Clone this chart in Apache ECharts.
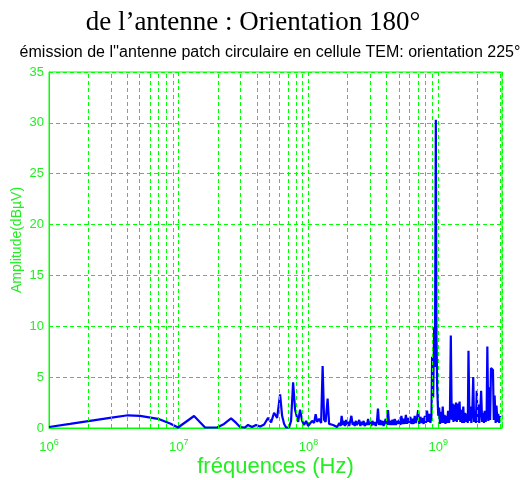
<!DOCTYPE html>
<html>
<head>
<meta charset="utf-8">
<script src="https://cdn.jsdelivr.net/npm/echarts@6/dist/echarts.min.js"></script>
<style>
  html, body { margin: 0; padding: 0; background: #fff; }
  #chart { width: 527px; height: 480px; }
</style>
</head>
<body>
<div id="chart"></div>
<script>

// frequencies (Hz) and amplitudes (dBuV)
var lowFreq = [1e6, 1.452e6, 2.07e6, 2.95e6, 4.06e6, 5.03e6, 6.92e6, 8.57e6, 9.88e6,
    1.312e7, 1.596e7, 1.974e7, 2.235e7, 2.53e7, 2.77e7, 2.97e7, 3.24e7, 3.42e7, 3.67e7,
    3.94e7, 4.24e7, 4.55e7, 4.88e7, 5.15e7, 5.43e7, 5.73e7, 6.04e7, 6.26e7, 6.49e7,
    6.72e7, 7.08e7, 7.34e7, 7.61e7, 7.88e7, 8.32e7, 8.61e7, 8.93e7, 9.25e7, 9.59e7, 9.93e7,
    1.028e8, 1.066e8, 1.105e8, 1.135e8, 1.165e8, 1.207e8, 1.251e8, 1.285e8,
    1.319e8, 1.355e8, 1.404e8, 1.442e8, 1.494e8, 1.548e8, 1.603e8, 1.662e8];
var lowAmp = [0.1, 0.4, 0.7, 1.0, 1.25, 1.2, 0.9, 0.45, 0.05,
    1.18, 0.05, 0.05, 0.4, 0.95, 0.5, 0.1, 0.05, 0.3, 0.1,
    0.3, 0.15, 0.35, 1.0, 0.55, 1.5, 1.0, 3.3, 1.2, 0.4,
    0.05, 0.05, 0.7, 4.5, 1.8, 0.6, 1.8, 0.7, 0.3, 0.7, 0.2,
    0.05, 0.7, 0.5, 1.35, 0.6, 0.9, 0.5, 6.1,
    0.8, 0.6, 2.9, 0.4, 0.5, 0.3, 0.4, 0.1];

var midFreq = [1.70e8, 1.73e8, 1.77e8, 1.80e8, 1.84e8, 1.87e8, 1.91e8, 1.95e8, 1.98e8, 2.02e8,
    2.06e8, 2.10e8, 2.14e8, 2.19e8, 2.23e8, 2.27e8, 2.32e8, 2.36e8, 2.41e8, 2.46e8,
    2.51e8, 2.56e8, 2.61e8, 2.66e8, 2.71e8, 2.77e8, 2.82e8, 2.88e8, 2.93e8, 2.99e8,
    3.05e8, 3.11e8, 3.17e8, 3.24e8, 3.30e8, 3.37e8, 3.43e8, 3.50e8, 3.57e8, 3.64e8,
    3.72e8, 3.79e8, 3.87e8, 3.94e8, 4.02e8, 4.10e8, 4.18e8, 4.27e8, 4.35e8, 4.44e8,
    4.53e8, 4.62e8, 4.71e8, 4.80e8, 4.90e8, 5.00e8, 5.10e8, 5.20e8, 5.30e8, 5.41e8,
    5.52e8, 5.63e8, 5.74e8, 5.85e8, 5.97e8, 6.09e8, 6.21e8, 6.34e8, 6.46e8, 6.59e8,
    6.72e8, 6.86e8, 7.00e8, 7.14e8, 7.28e8, 7.42e8, 7.57e8, 7.72e8, 7.88e8, 8.04e8,
    8.20e8, 8.36e8, 8.53e8, 8.70e8, 8.87e8];
var midAmp = [0.15, 0.5, 0.2, 1.2, 0.3, 0.7, 0.2, 0.8, 0.3, 0.6,
    0.2, 0.7, 1.2, 0.3, 0.6, 0.2, 0.7, 0.3, 0.5, 0.8,
    0.2, 0.6, 0.3, 0.7, 0.2, 0.5, 0.3, 0.9, 0.3, 0.6,
    0.2, 0.7, 0.3, 0.6, 0.2, 0.6, 1.9, 0.3, 0.8, 0.3,
    0.7, 0.2, 0.6, 0.9, 0.3, 1.75, 0.3, 0.7, 0.3, 0.8,
    0.3, 0.9, 0.3, 0.7, 0.4, 0.8, 0.3, 1.2, 0.4, 0.9,
    0.4, 1.3, 0.4, 1.0, 0.5, 1.1, 0.4, 0.9, 0.4, 1.2,
    0.5, 1.0, 1.75, 0.4, 1.1, 0.5, 1.0, 0.4, 1.2, 0.5,
    1.7, 0.6, 1.4, 0.5, 1.3];

var highFreq = [8.97e8, 9.14e8, 9.30e8, 9.43e8, 9.58e8, 9.69e8, 9.81e8,
    1.00e9, 1.016e9, 1.032e9, 1.049e9, 1.066e9, 1.083e9, 1.10e9, 1.118e9, 1.136e9, 1.154e9,
    1.172e9, 1.191e9, 1.21e9, 1.23e9, 1.25e9,
    1.27e9, 1.29e9, 1.31e9, 1.33e9, 1.35e9, 1.37e9, 1.39e9, 1.41e9, 1.44e9, 1.46e9,
    1.48e9, 1.51e9, 1.53e9, 1.56e9, 1.58e9, 1.61e9, 1.63e9, 1.66e9, 1.69e9,
    1.71e9, 1.74e9, 1.77e9, 1.80e9, 1.83e9, 1.86e9, 1.89e9, 1.92e9, 1.95e9, 1.98e9,
    2.01e9, 2.04e9, 2.07e9, 2.11e9, 2.14e9, 2.18e9, 2.21e9, 2.25e9, 2.28e9, 2.32e9, 2.36e9,
    2.39e9, 2.43e9, 2.47e9, 2.51e9, 2.55e9, 2.59e9, 2.64e9, 2.68e9, 2.72e9, 2.77e9,
    2.81e9, 2.86e9, 2.90e9, 2.95e9, 3.00e9];
var highAmp = [7.0, 3.0, 9.9, 6.0, 30.3, 9.0, 4.0,
    1.2, 2.0, 0.4, 1.6, 0.5, 2.1, 0.5, 1.3, 0.4, 1.2,
    0.5, 1.7, 0.5, 1.3, 9.1,
    0.8, 2.4, 0.6, 2.3, 0.7, 2.5, 0.6, 2.4, 0.8, 2.6,
    0.6, 1.8, 0.5, 2.1, 0.5, 1.5, 0.6, 1.4, 0.5,
    7.6, 0.7, 2.1, 0.5, 1.6, 5.0, 0.6, 1.7, 0.5, 3.65,
    0.6, 2.3, 0.5, 1.8, 3.65, 0.6, 1.5, 0.5, 1.7, 0.6, 1.4,
    8.0, 0.7, 4.0, 0.8, 5.9, 5.8, 5.7, 0.8, 3.2, 0.5,
    2.2, 0.6, 1.4, 0.5, 1.2];

// vertical grid positions (log minor grid, 2..9 per decade)
var gridFreq = [2e6, 3e6, 4e6, 5e6, 6e6, 7e6, 8e6, 9e6,
    2e7, 3e7, 4e7, 5e7, 6e7, 7e7, 8e7, 9e7,
    2e8, 3e8, 4e8, 5e8, 6e8, 7e8, 8e8, 9e8,
    2e9, 3e9];

var green = '#00ff00';
var textGreen = '#22ee22';

function pairs(xs, ys) {
    var res = [];
    for (var i = 0; i < xs.length; i++) {
        res.push([xs[i], ys[i]]);
    }
    return res;
}

var data = pairs(lowFreq, lowAmp).concat(pairs(midFreq, midAmp), pairs(highFreq, highAmp));

var chart = echarts.init(document.getElementById('chart'));

var option = {
    backgroundColor: '#fff',
    animation: false,
    title: [
        {
            text: 'de l\u2019antenne : Orientation 180\u00b0',
            left: 248,
            top: 4,
            textAlign: 'center',
            textStyle: {
                fontFamily: 'Liberation Serif',
                fontSize: 27,
                fontWeight: 'normal',
                color: '#000'
            }
        },
        {
            text: '\u00e9mission de l\'\'antenne patch circulaire en cellule TEM: orientation 225\u00b0',
            left: 265,
            top: 40,
            textAlign: 'center',
            textStyle: {
                fontFamily: 'Liberation Sans',
                fontSize: 16,
                fontWeight: 'normal',
                color: '#000'
            }
        }
    ],
    grid: {
        left: 49,
        right: 25,
        top: 72,
        bottom: 52,
        outerBoundsMode: 'none',
        show: true,
        borderColor: green,
        borderWidth: 1
    },
    xAxis: {
        type: 'log',
        logBase: 10,
        min: 1e6,
        max: 3.1e9,
        interval: 1,
        name: 'fr\u00e9quences (Hz)',
        nameLocation: 'middle',
        nameGap: 28,
        nameMoveOverlap: false,
        nameTextStyle: {
            color: textGreen,
            fontFamily: 'Liberation Sans',
            fontSize: 22
        },
        axisLine: { lineStyle: { color: green } },
        axisTick: { inside: true, length: 4, lineStyle: { color: green } },
        axisLabel: {
            color: textGreen,
            fontFamily: 'Liberation Sans',
            fontSize: 13,
            margin: 10,
            formatter: function (v) {
                var e = Math.log10(v);
                if (Math.abs(e - Math.round(e)) > 1e-6) return '';
                return '10{sup|' + Math.round(e) + '}';
            },
            rich: {
                sup: {
                    fontSize: 9,
                    color: textGreen,
                    fontFamily: 'Liberation Sans',
                    verticalAlign: 'top',
                    padding: [0, 0, 9, 0]
                }
            }
        },
        splitLine: {
            show: true,
            lineStyle: { color: green, type: [4, 3], width: 1 }
        }
    },
    yAxis: {
        type: 'value',
        min: 0,
        max: 35,
        interval: 5,
        name: 'Amplitude(dB\u00b5V)',
        nameLocation: 'middle',
        nameGap: 25,
        nameMoveOverlap: false,
        nameTextStyle: {
            color: textGreen,
            fontFamily: 'Liberation Sans',
            fontSize: 14,
            padding: [0, 0, 0, 20]
        },
        axisLine: { show: true, lineStyle: { color: green } },
        axisTick: { show: true, inside: true, length: 4, lineStyle: { color: green } },
        axisLabel: {
            color: textGreen,
            fontFamily: 'Liberation Sans',
            fontSize: 13,
            margin: 5
        },
        splitLine: {
            show: true,
            lineStyle: { color: green, type: [4, 3], width: 1 }
        }
    },
    series: [
        {
            // minor vertical grid lines
            type: 'line',
            data: [[1e6, 0]],
            showSymbol: false,
            lineStyle: { opacity: 0 },
            silent: true,
            z: 1,
            markLine: {
                silent: true,
                symbol: 'none',
                label: { show: false },
                lineStyle: { color: green, type: [4, 3], width: 1 },
                data: gridFreq.map(function (f) { return { xAxis: f }; })
            }
        },
        {
            name: 'emission',
            type: 'line',
            data: data,
            showSymbol: false,
            z: 3,
            lineStyle: { color: '#0000ff', width: 2.2 }
        }
    ]
};

chart.setOption(option);

</script>
</body>
</html>
